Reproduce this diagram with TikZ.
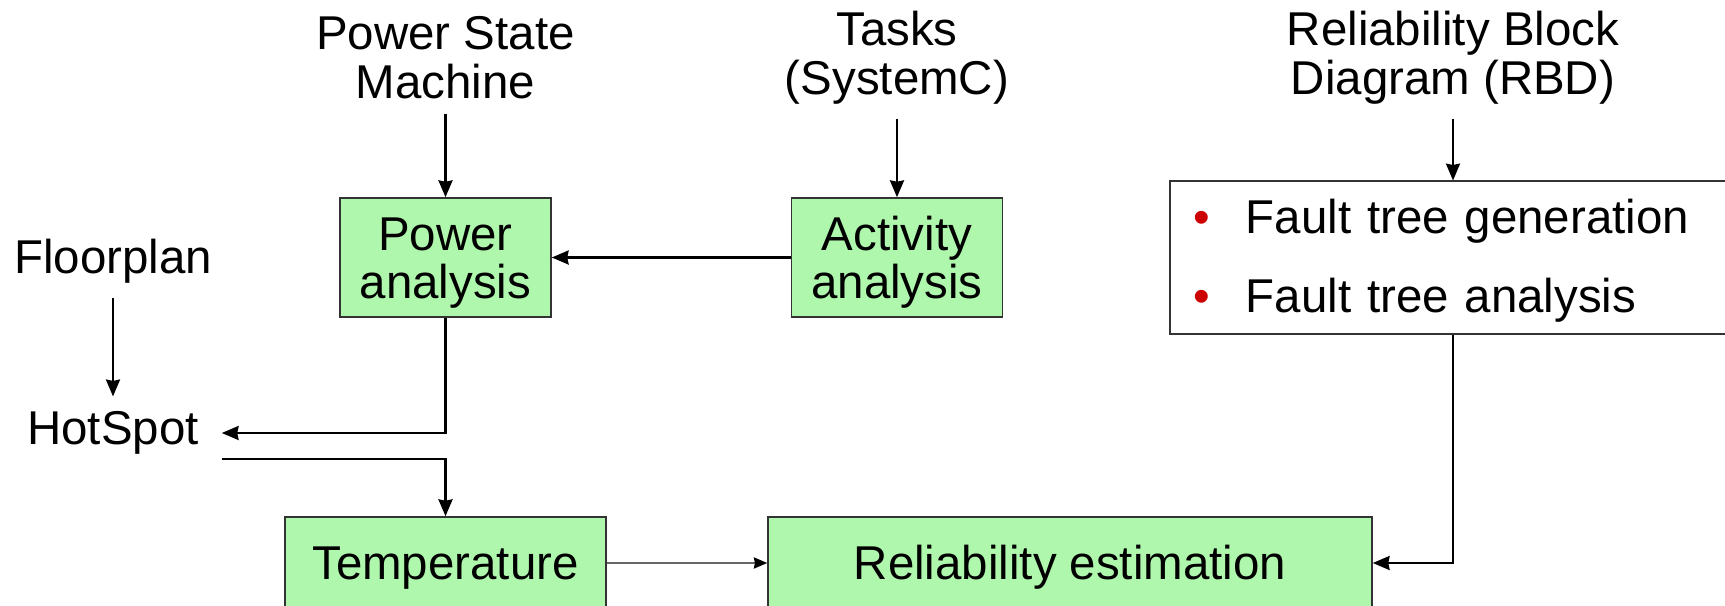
\documentclass[tikz,border=0pt]{standalone}
\usepackage{fontspec}
\setmainfont{Liberation Sans}
\usepackage{tikz}
\usetikzlibrary{arrows.meta,positioning}
\definecolor{sabzroshan}{RGB}{176,247,174}
\definecolor{qermez}{RGB}{204,0,0}

\begin{document}
\begin{tikzpicture}[->,>={Stealth[length=4.8pt,width=4pt,inset=0.4pt]},node distance=2cm,semithick,font=\fontsize{13.5}{13.8}\selectfont,jabe/.style={rectangle,draw=black!80,fill=sabzroshan,line width=0.45pt,inner sep=0pt,align=center,minimum width=2.11cm,minimum height=1.19cm},matn/.style={align=center,inner sep=4pt},fehrest/.style={rectangle,draw=black!80,line width=0.45pt,align=left,anchor=west,text width=5.2cm,inner xsep=0.24cm,minimum height=1.51cm}]
		\useasboundingbox (0,0) rectangle (17.25,-6.06);

		\node[jabe] (power) at (4.455,-2.575) {\rule{0pt}{0.92em}Power\\analysis};
		\node[jabe] (activity) [right of=power, node distance=4.515cm] {\rule{0pt}{0.92em}Activity\\analysis};
		\node[matn] (psm) [above of=power, node distance=2cm] {Power State\\Machine};
		\node[matn] (tasks) [above of=activity, node distance=2cm] {Tasks\\(SystemC)};

		\node[matn, inner xsep=0.22cm] (hotspot) at (1.13,-4.33) {HotSpot};
		\node[matn] (floorplan) [above of=hotspot, node distance=1.72cm] {Floorplan};

		\node[jabe, minimum width=3.21cm, minimum height=0.92cm] (temp) [below of=power, node distance=3.055cm] {\rule{0pt}{0.92em}Temperature};
		\node[jabe, minimum width=6.04cm, minimum height=0.92cm] (rel) [right of=temp, node distance=6.245cm] {\rule{0pt}{0.92em}Reliability estimation};

		\node[matn] (rbd) at (14.53,-0.575) {Reliability Block\\Diagram (RBD)};
		\node[fehrest] (fault) at (11.69,-2.575) {\rule{0pt}{0.86em}\textcolor{qermez}{\textbullet}\hspace{0.355cm}Fault tree generation\\[8.5pt]\textcolor{qermez}{\textbullet}\hspace{0.355cm}Fault tree analysis};

		\draw (psm) to (power);
		\draw (tasks) to (activity);
		\draw (rbd.south) to (rbd.south |- fault.north);
		\draw (activity) to (power);
		\draw (floorplan) to (hotspot);
		\draw (power.south) |- (hotspot.east);
		\draw ([yshift=-2.6mm]hotspot.east) -| (temp.north);
		\draw[draw=black!60, line width=0.4pt, -{Stealth[length=3.8pt,width=3.2pt,inset=0.3pt,black]}] (temp) to (rel);
		\draw (fault.south -| rbd.south) |- (rel.east);

		\end{tikzpicture}
\end{document}
